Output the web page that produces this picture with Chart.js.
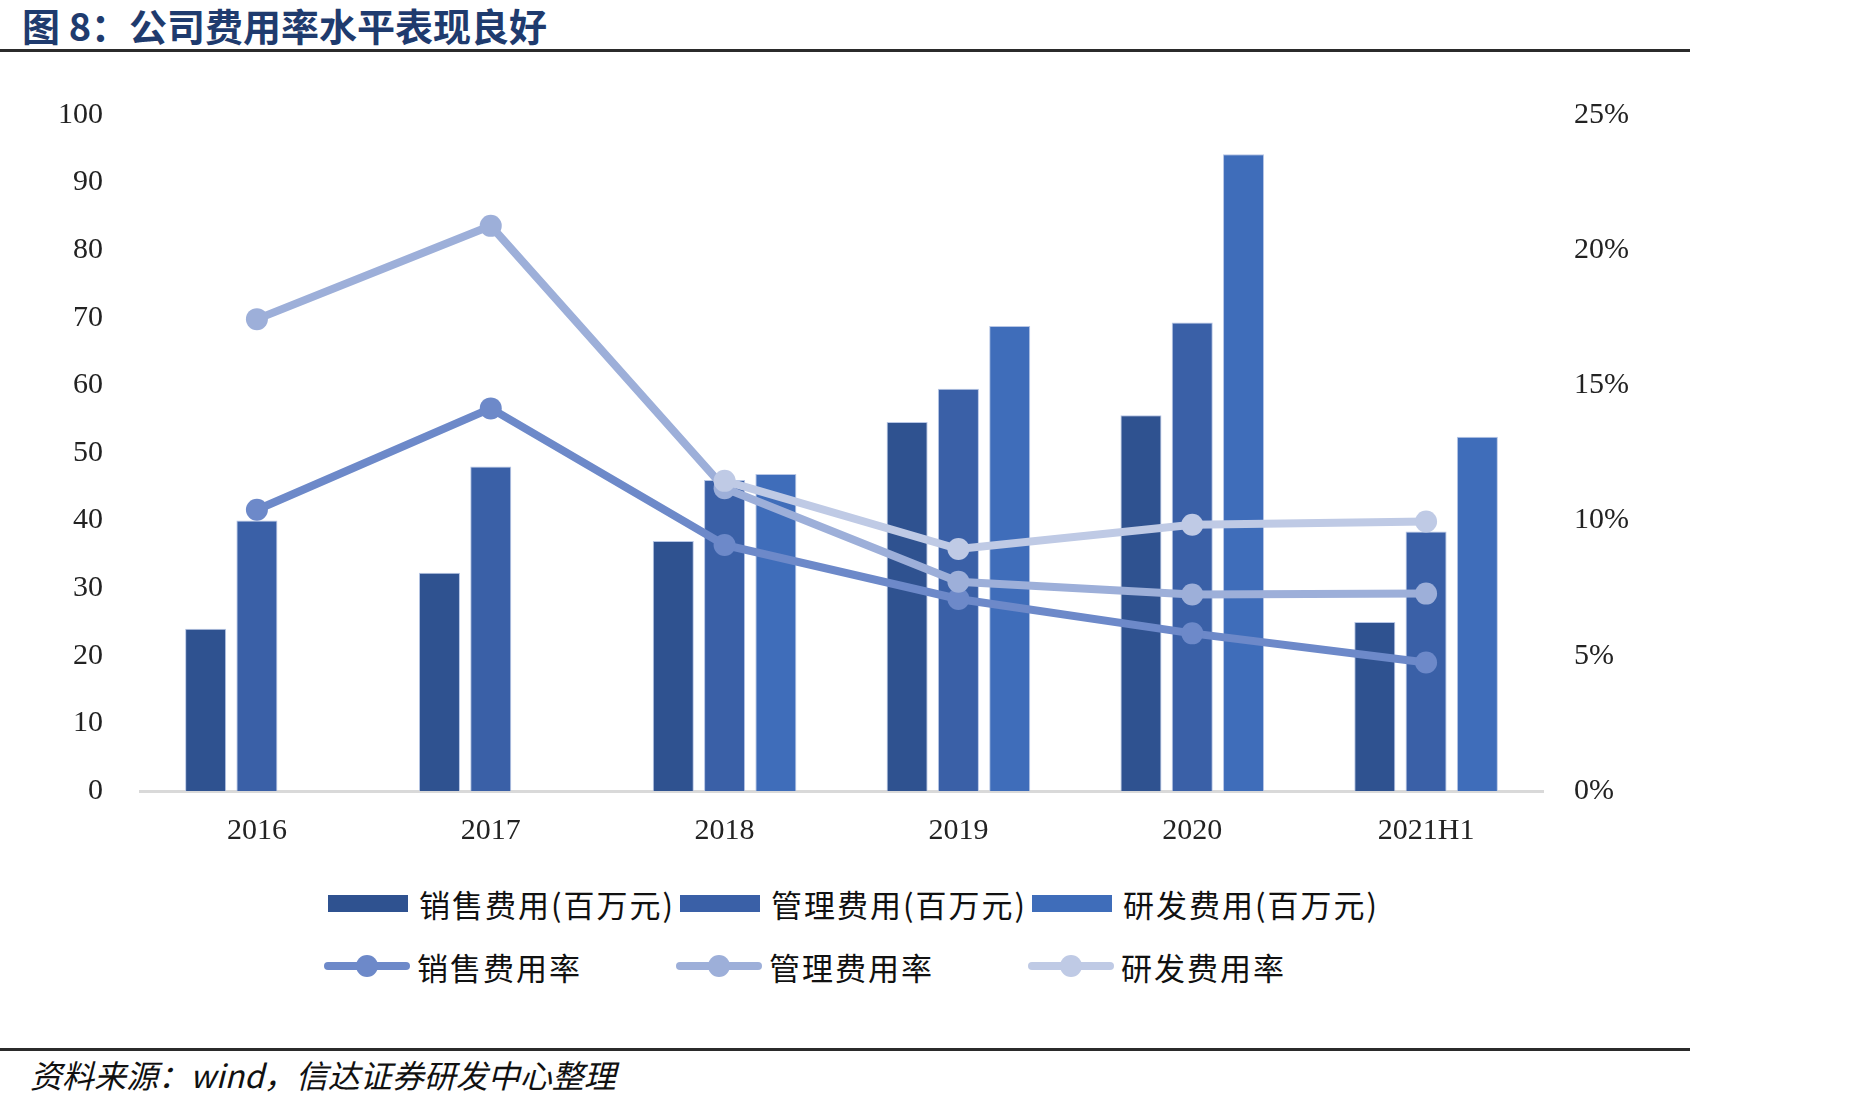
<!DOCTYPE html>
<html>
<head>
<meta charset="utf-8">
<script src="https://cdn.jsdelivr.net/npm/chart.js@4.4.1/dist/chart.umd.min.js"></script>
<style>
  body { margin: 0; width: 1866px; height: 1104px; background: #fff; position: relative; overflow: hidden;
         font-family: "Noto Sans CJK SC", sans-serif; }
  #title { position: absolute; left: 22px; top: 0; font-size: 38px; font-weight: bold; color: #1f3b6e; line-height: 50px; white-space: nowrap; }
  .rule { position: absolute; left: 0; width: 1690px; height: 3px; background: #2b2b2b; }
  #wrap { position: absolute; left: 0; top: 60px; width: 1700px; height: 800px; }
  .leg { position: absolute; height: 40px; display: flex; align-items: center; font-size: 31px; letter-spacing: 2px; color: #111; white-space: nowrap; }
  .leg .sym { position: relative; width: 86px; height: 40px; margin-right: 7px; }
  .leg .box { position: absolute; left: 2px; top: 12px; width: 80px; height: 17px; }
  .leg .ln { position: absolute; left: 0; top: 16px; width: 86px; height: 8px; border-radius: 4px; }
  .leg .dot { position: absolute; left: 32px; top: 9px; width: 22px; height: 22px; border-radius: 50%; }
  #source { position: absolute; left: 30px; top: 1051px; font-size: 32px; font-style: italic; color: #111; white-space: nowrap; }
</style>
</head>
<body>
<div id="title">图 8：公司费用率水平表现良好</div>
<div class="rule" style="top:49px"></div>
<div id="wrap"><canvas id="chart"></canvas></div>
<div id="legend"></div>
<div class="rule" style="top:1048px"></div>
<div id="source">资料来源：wind，信达证券研发中心整理</div>

<script>
const categories = ["2016", "2017", "2018", "2019", "2020", "2021H1"]

// 费用 (百万元), left axis
const salesCost = [24, 32.3, 37, 54.6, 55.6, 25]
const adminCost = [40, 48, 46, 59.5, 69.3, 38.4]
const rdCost = [null, null, 46.9, 68.8, 94.2, 52.4]

// 费用率 (%), right axis
const salesRate = [10.4, 14.15, 9.1, 7.1, 5.83, 4.75]
const adminRate = [17.45, 20.9, 11.2, 7.74, 7.27, 7.3]
const rdRate = [null, null, 11.47, 8.95, 9.85, 9.97]

const leftTicks = [0, 10, 20, 30, 40, 50, 60, 70, 80, 90, 100]
const rightTicks = [0, 5, 10, 15, 20, 25]

const barNames = ["销售费用(百万元)", "管理费用(百万元)", "研发费用(百万元)"]
const lineNames = ["销售费用率", "管理费用率", "研发费用率"]
const barColors = ["#2f5290", "#3a60a7", "#3f6dba"]
const lineColors = ["#6d89c9", "#9dafd9", "#bfcae5"]

const tickFont = { family: "'Liberation Serif', serif", size: 30 }

const barSet = (label, data, color) => ({
    type: "bar",
    label: label,
    data: data,
    yAxisID: "y",
    backgroundColor: color,
    borderColor: "rgba(175,192,226,0.9)",
    borderWidth: 1,
    borderSkipped: "start",
    categoryPercentage: 0.658,
    barPercentage: 0.8,
    order: 10
})

const lineSet = (label, data, color, order) => ({
    type: "line",
    label: label,
    data: data,
    yAxisID: "y1",
    borderColor: color,
    backgroundColor: color,
    borderWidth: 8,
    pointRadius: 11,
    pointHoverRadius: 11,
    pointBorderWidth: 0,
    tension: 0,
    fill: false,
    order: order
})

const chartData = {
    labels: categories,
    datasets: [
        barSet(barNames[0], salesCost, barColors[0]),
        barSet(barNames[1], adminCost, barColors[1]),
        barSet(barNames[2], rdCost, barColors[2]),
        lineSet(lineNames[0], salesRate, lineColors[0], 3),
        lineSet(lineNames[1], adminRate, lineColors[1], 2),
        lineSet(lineNames[2], rdRate, lineColors[2], 1)
    ]
}

const config = {
    data: chartData,
    options: {
        responsive: true,
        maintainAspectRatio: false,
        animation: false,
        layout: { padding: { top: 55, left: 0, right: 0, bottom: 0 } },
        plugins: {
            legend: { display: false },
            title: { display: false },
            tooltip: { enabled: false }
        },
        scales: {
            x: {
                grid: { display: false },
                border: { display: true, color: "#d9d9d9", width: 3 },
                ticks: { font: tickFont, color: "#222", padding: 14 },
                afterFit: (s) => { s.height = 69 }
            },
            y: {
                position: "left",
                min: leftTicks[0],
                max: leftTicks[leftTicks.length - 1],
                ticks: { stepSize: leftTicks[1] - leftTicks[0], font: tickFont, color: "#222", padding: 29 },
                grid: { display: false },
                border: { display: false },
                afterFit: (s) => { s.width = 140 }
            },
            y1: {
                position: "right",
                min: rightTicks[0],
                max: rightTicks[rightTicks.length - 1],
                ticks: {
                    stepSize: rightTicks[1] - rightTicks[0],
                    font: tickFont, color: "#222", padding: 23,
                    callback: (v) => v + "%"
                },
                grid: { display: false },
                border: { display: false },
                afterFit: (s) => { s.width = 157 }
            }
        }
    }
}

new Chart(document.querySelector("#chart"), config)

// legend, 3 columns x 2 rows
const legend = document.querySelector("#legend")
const colLeft = [326, 678, 1030]
barNames.forEach((name, i) => {
    const el = document.createElement("div")
    el.className = "leg"
    el.style.left = colLeft[i] + "px"
    el.style.top = "883px"
    el.innerHTML = `<div class="sym"><div class="box" style="background:${barColors[i]}"></div></div>${name}`
    legend.appendChild(el)
})
lineNames.forEach((name, i) => {
    const el = document.createElement("div")
    el.className = "leg"
    el.style.left = (colLeft[i] - 2) + "px"
    el.style.top = "946px"
    el.innerHTML = `<div class="sym"><div class="ln" style="background:${lineColors[i]}"></div><div class="dot" style="background:${lineColors[i]}"></div></div>${name}`
    legend.appendChild(el)
})
</script>
</body>
</html>
